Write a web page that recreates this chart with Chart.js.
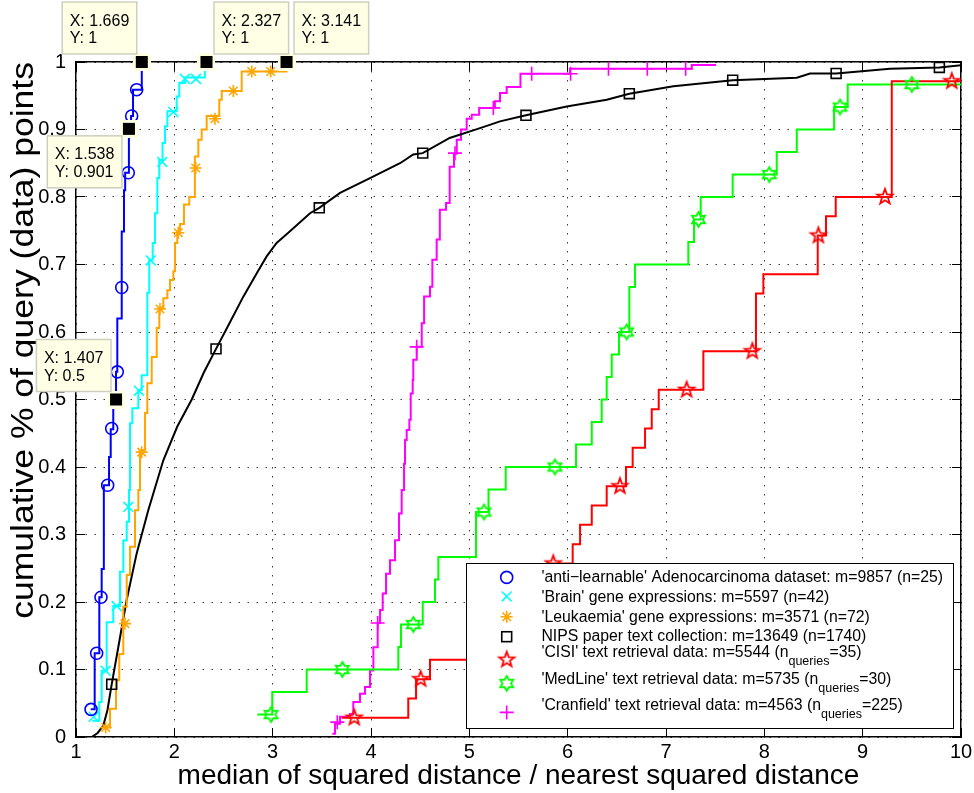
<!DOCTYPE html>
<html><head><meta charset="utf-8">
<script src="https://cdn.jsdelivr.net/npm/chart.js@4"></script>
<style>html,body{margin:0;padding:0;background:#fff}canvas{display:block}</style>
</head><body>
<canvas id="c" width="974" height="793"></canvas>
<script>
// ---------- data ----------
const xTicks = [1,2,3,4,5,6,7,8,9,10];
const yTicks = [0,0.1,0.2,0.3,0.4,0.5,0.6,0.7,0.8,0.9,1];
const yTickLabels = ['0','0.1','0.2','0.3','0.4','0.5','0.6','0.7','0.8','0.9','1'];
const xTitle = 'median of squared distance / nearest squared distance';
const yTitle = 'cumulative % of query (data) points';

const legendLabels = [
  "'anti\u2212learnable' Adenocarcinoma dataset: m=9857 (n=25)",
  "'Brain' gene expressions: m=5597 (n=42)",
  "'Leukaemia' gene expressions: m=3571 (n=72)",
  "NIPS paper text collection: m=13649 (n=1740)",
  "'CISI' text retrieval data: m=5544 (n_{queries}=35)",
  "'MedLine' text retrieval data: m=5735 (n_{queries}=30)",
  "'Cranfield' text retrieval data: m=4563 (n_{queries}=225)"
];

// 'anti-learnable' Adenocarcinoma
const adenoX = [1.15,1.19,1.237,1.261,1.283,1.336,1.353,1.379,1.407,1.42,1.465,1.488,1.50,1.538,1.56,1.58,1.669];
const adenoY = [0.041,0.124,0.207,0.249,0.373,0.415,0.456,0.50,0.541,0.62,0.749,0.81,0.836,0.901,0.92,0.959,1.0];
const adenoMX = [1.153,1.21,1.254,1.322,1.363,1.42,1.465,1.532,1.566,1.617];
const adenoMY = [0.041,0.124,0.207,0.373,0.457,0.541,0.666,0.836,0.92,0.959];

// 'Brain'
const brainX = [1.166,1.237,1.261,1.312,1.379,1.447,1.481,1.516,1.539,1.549,1.573,1.634,1.668,1.725,1.745,1.78,1.803,1.827,1.847,1.88,1.905,1.929,2.024,2.05,2.108,2.31];
const brainY = [0.024,0.052,0.098,0.170,0.194,0.245,0.291,0.319,0.366,0.465,0.487,0.514,0.536,0.658,0.707,0.732,0.776,0.828,0.855,0.88,0.905,0.927,0.949,0.969,0.977,1.0];
const brainMX = [1.18,1.302,1.414,1.532,1.64,1.76,1.878,1.99,2.108,2.22];
const brainMY = [0.03,0.098,0.194,0.341,0.513,0.706,0.852,0.926,0.975,0.975];

// 'Leukaemia'
const leukX = [1.254,1.346,1.407,1.44,1.481,1.516,1.549,1.60,1.634,1.651,1.702,1.725,1.77,1.821,1.847,1.888,1.929,1.956,1.99,2.007,2.03,2.058,2.098,2.152,2.209,2.244,2.278,2.329,2.457,2.482,2.685,3.141];
const leukY = [0.014,0.042,0.084,0.123,0.193,0.24,0.282,0.336,0.366,0.425,0.48,0.524,0.563,0.606,0.635,0.65,0.662,0.677,0.69,0.732,0.747,0.76,0.789,0.80,0.86,0.885,0.90,0.92,0.944,0.957,0.986,1.0];
const leukMX = [1.302,1.498,1.668,1.854,2.04,2.217,2.413,2.60,2.787,2.98];
const leukMY = [0.014,0.168,0.422,0.634,0.747,0.843,0.916,0.957,0.986,0.986];

// NIPS
const nipsX = [1.16,1.22,1.278,1.32,1.363,1.43,1.515,1.617,1.735,1.888,2.03,2.177,2.30,2.424,2.55,2.70,2.85,2.939,3.04,3.159,3.38,3.474,3.685,3.99,4.295,4.43,4.526,4.80,5.109,5.312,5.576,5.99,6.397,6.627,7.075,7.678,8.33,8.465,8.73,9.278,9.78,10.01];
const nipsY = [0,0.006,0.017,0.04,0.078,0.133,0.203,0.272,0.336,0.41,0.46,0.5,0.54,0.575,0.61,0.652,0.69,0.712,0.732,0.747,0.776,0.784,0.806,0.828,0.85,0.863,0.865,0.8875,0.902,0.912,0.921,0.934,0.944,0.953,0.964,0.973,0.9766,0.983,0.983,0.99,0.992,0.9955];
const nipsMX = [1.363,2.424,3.474,4.526,5.576,6.627,7.678,8.73,9.78];
const nipsMY = [0.078,0.575,0.784,0.865,0.921,0.953,0.973,0.983,0.992];

// 'CISI'
const cisiX = [3.702,4.379,4.458,4.60,5.0,5.2,5.4,5.6,5.8,6.051,6.126,6.245,6.397,6.593,6.661,6.787,6.855,6.926,7.38,7.915,7.99,8.543,8.627,8.726,9.296,10.5];
const cisiY = [0.0286,0.0571,0.0857,0.1143,0.1429,0.1714,0.2,0.2286,0.2571,0.2857,0.3143,0.3429,0.3714,0.4,0.4286,0.4571,0.4857,0.5143,0.5714,0.6571,0.6857,0.7429,0.7714,0.8,0.9714,1.0];
const cisiMX = [3.83,4.505,5.18,5.854,6.532,7.21,7.878,8.55,9.227,9.906];
const cisiMY = [0.0286,0.0857,0.1429,0.2571,0.3714,0.5143,0.5714,0.7429,0.8,0.9714];

// 'MedLine'
const medX = [2.844,2.996,3.346,4.278,4.305,4.526,4.651,4.685,5.068,5.195,5.37,6.085,6.245,6.346,6.397,6.448,6.522,6.627,6.685,7.227,7.285,7.353,7.678,8.126,8.33,8.709,8.848,10.5];
const medY = [0.0333,0.0667,0.1,0.1333,0.1667,0.2,0.2333,0.2667,0.3333,0.3667,0.4,0.4333,0.4667,0.5,0.5333,0.5667,0.6,0.6667,0.7,0.7333,0.7667,0.8,0.8333,0.8667,0.9,0.9333,0.9667,1.0];
const medMX = [2.983,3.708,4.43,5.149,5.87,6.6,7.33,8.05,8.77,9.5];
const medMY = [0.0333,0.1,0.1667,0.3333,0.4,0.6,0.7667,0.8333,0.9333,0.9667];

// 'Cranfield'
const cranX = [3.607,3.634,3.685,3.787,3.82,3.888,3.939,3.99,4.024,4.068,4.092,4.119,4.153,4.193,4.244,4.285,4.312,4.336,4.346,4.363,4.39,4.404,4.424,4.43,4.465,4.516,4.54,4.60,4.624,4.668,4.70,4.763,4.80,4.844,4.872,4.915,4.973,5.024,5.10,5.26,5.312,5.38,5.52,6.024,7.262,7.509];
const cranY = [0.005,0.0196,0.030,0.034,0.052,0.064,0.074,0.0987,0.133,0.169,0.188,0.2125,0.242,0.262,0.2915,0.331,0.366,0.405,0.44,0.455,0.47,0.509,0.529,0.559,0.578,0.613,0.6525,0.667,0.707,0.737,0.781,0.791,0.845,0.864,0.885,0.90,0.916,0.922,0.932,0.942,0.954,0.963,0.9825,0.99,0.9955,0.9955];
const cranMX = [3.657,4.068,4.465,4.854,5.244,5.634,6.03,6.415,6.81,7.20];
const cranMY = [0.022,0.169,0.578,0.865,0.932,0.9825,0.9825,0.99,0.99,0.99];

// data tips
const dtX = [1.669,2.327,3.141,1.538,1.407];
const dtY = [1,1,1,0.901,0.5];

// ---------- styles ----------
const FONT = "'Liberation Sans', Arial, Helvetica, sans-serif";
const dtPlace = ['ul','ur','ur','ll','ul'];

function starCanvas(n, R, r, color, lw) {
  const size = Math.ceil(2 * R + 2 * lw + 2);
  const c = document.createElement('canvas');
  c.width = c.height = size;
  const g = c.getContext('2d');
  g.translate(size / 2, size / 2);
  g.beginPath();
  for (let i = 0; i < 2 * n; i++) {
    const a = -Math.PI / 2 + i * Math.PI / n;
    const rad = i % 2 === 0 ? R : r;
    g.lineTo(rad * Math.cos(a), rad * Math.sin(a));
  }
  g.closePath();
  g.strokeStyle = color; g.lineWidth = lw; g.lineJoin = 'miter';
  g.stroke();
  return c;
}
function tipCanvas() {
  const c = document.createElement('canvas');
  c.width = c.height = 18;
  const g = c.getContext('2d');
  g.fillStyle = '#FFFFE1'; g.fillRect(0, 0, 18, 18);
  g.fillStyle = '#000'; g.fillRect(3, 3, 12, 12);
  return c;
}
const pentagram = starCanvas(5, 8, 3.3, '#FF0000', 1.8);
const hexagram = starCanvas(6, 7.5, 4.3, '#00FF00', 1.8);
const tipMark = tipCanvas();

const seriesStyles = [
  {color:'#0000FF', style:'circle', r:6},
  {color:'#00FFFF', style:'crossRot', r:7},
  {color:'#FFA500', style:'star', r:6},
  {color:'#000000', style:'rect', r:7},
  {color:'#FF0000', style:pentagram, r:8},
  {color:'#00FF00', style:hexagram, r:8},
  {color:'#FF00FF', style:'cross', r:7}
];

const pts = (xs, ys) => xs.map((x, i) => ({x: x, y: ys[i]}));
function lineDs(xs, ys, color, stepped) {
  return {data: pts(xs, ys), borderColor: color, borderWidth: 2, pointRadius: 0,
          stepped: stepped, fill: false, tension: 0, order: 2};
}
function markDs(xs, ys, s) {
  return {data: pts(xs, ys), showLine: false, pointStyle: s.style, pointRadius: s.r,
          pointBorderColor: s.color, pointBackgroundColor: 'rgba(0,0,0,0)', pointBorderWidth: 1.6,
          clip: false, order: 1};
}

const datasets = [
  {data: pts(dtX, dtY), showLine: false, pointStyle: tipMark, pointRadius: 9, clip: false, order: 0},
  markDs(adenoMX, adenoMY, seriesStyles[0]),
  markDs(brainMX, brainMY, seriesStyles[1]),
  markDs(leukMX, leukMY, seriesStyles[2]),
  markDs(nipsMX, nipsMY, seriesStyles[3]),
  markDs(cisiMX, cisiMY, seriesStyles[4]),
  markDs(medMX, medMY, seriesStyles[5]),
  markDs(cranMX, cranMY, seriesStyles[6]),
  lineDs(adenoX, adenoY, seriesStyles[0].color, true),
  lineDs(brainX, brainY, seriesStyles[1].color, true),
  lineDs(leukX, leukY, seriesStyles[2].color, true),
  lineDs(nipsX, nipsY, seriesStyles[3].color, false),
  lineDs(cisiX, cisiY, seriesStyles[4].color, true),
  lineDs(medX, medY, seriesStyles[5].color, true),
  lineDs(cranX, cranY, seriesStyles[6].color, true)
];

// ---------- plugins ----------
function drawMarker(ctx, s, x, y) {
  ctx.save();
  ctx.strokeStyle = s.color; ctx.lineWidth = 1.6;
  const r = s.r;
  if (typeof s.style !== 'string') {
    ctx.drawImage(s.style, x - s.style.width / 2, y - s.style.height / 2);
  } else if (s.style === 'circle') {
    ctx.beginPath(); ctx.arc(x, y, r, 0, Math.PI * 2); ctx.stroke();
  } else if (s.style === 'crossRot') {
    const d = r * Math.SQRT1_2;
    ctx.beginPath(); ctx.moveTo(x - d, y - d); ctx.lineTo(x + d, y + d);
    ctx.moveTo(x - d, y + d); ctx.lineTo(x + d, y - d); ctx.stroke();
  } else if (s.style === 'star') {
    const d = r * Math.SQRT1_2;
    ctx.beginPath(); ctx.moveTo(x - r, y); ctx.lineTo(x + r, y); ctx.moveTo(x, y - r); ctx.lineTo(x, y + r);
    ctx.moveTo(x - d, y - d); ctx.lineTo(x + d, y + d); ctx.moveTo(x - d, y + d); ctx.lineTo(x + d, y - d); ctx.stroke();
  } else if (s.style === 'rect') {
    const d = r * Math.SQRT1_2;
    ctx.strokeRect(x - d, y - d, 2 * d, 2 * d);
  } else if (s.style === 'cross') {
    ctx.beginPath(); ctx.moveTo(x - r, y); ctx.lineTo(x + r, y); ctx.moveTo(x, y - r); ctx.lineTo(x, y + r); ctx.stroke();
  }
  ctx.restore();
}

const overlayPlugin = {
  id: 'overlay',
  afterDraw(chart) {
    const {ctx, chartArea: ca, scales} = chart;
    const xs = scales.x, ys = scales.y;

    // y axis title (rendered slightly elongated, as in the original figure)
    ctx.save();
    ctx.font = '32px ' + FONT;
    ctx.fillStyle = '#000';
    ctx.translate(33, ca.top);
    ctx.rotate(-Math.PI / 2);
    ctx.scale(1.11, 1);
    ctx.textAlign = 'right'; ctx.textBaseline = 'alphabetic';
    ctx.fillText(yTitle, 0, 0);
    ctx.restore();

    // data tip boxes
    ctx.save();
    ctx.font = '16px ' + FONT;
    dtX.forEach((vx, i) => {
      const px = xs.getPixelForValue(vx), py = ys.getPixelForValue(dtY[i]);
      const l1 = 'X: ' + vx, l2 = 'Y: ' + dtY[i];
      const w = Math.max(ctx.measureText(l1).width, ctx.measureText(l2).width) + 15;
      const h = 52;
      let bx, by;
      const p = dtPlace[i];
      if (p === 'ul') { bx = px - 5 - w; by = py - 8 - h; }
      else if (p === 'ur') { bx = px + 7.5; by = py - 8 - h; }
      else { bx = px - 7 - w; by = py + 7; }
      ctx.fillStyle = '#FFFFE6'; ctx.fillRect(bx, by, w, h);
      ctx.strokeStyle = '#CFCFC0'; ctx.lineWidth = 1.5; ctx.strokeRect(bx, by, w, h);
      ctx.fillStyle = '#000'; ctx.textBaseline = 'alphabetic'; ctx.textAlign = 'left';
      ctx.fillText(l1, bx + 7.5, by + 23.5);
      ctx.fillText(l2, bx + 7.5, by + 41);
    });
    ctx.restore();

    // legend
    ctx.save();
    const lw = 487, lh = 165;
    const lx = ca.right - 8 - lw, ly = ca.bottom - 9 - lh;
    ctx.fillStyle = '#fff'; ctx.fillRect(lx, ly, lw, lh);
    ctx.strokeStyle = '#000'; ctx.lineWidth = 1; ctx.strokeRect(Math.round(lx) + 0.5, Math.round(ly) + 0.5, lw, lh);
    const textY = [14.4, 34.4, 54.4, 73.7, 90, 117, 142.7];
    const markY = [14.4, 33.4, 53.7, 73.7, 96.7, 120.4, 149.4];
    ctx.textBaseline = 'middle'; ctx.textAlign = 'left'; ctx.fillStyle = '#000';
    legendLabels.forEach((lab, i) => {
      drawMarker(ctx, seriesStyles[i], lx + 40.7, ly + markY[i]);
      let tx = lx + 75.4;
      const ty = ly + textY[i];
      const m = lab.match(/^(.*)_\{([^}]*)\}(.*)$/);
      const parts = m ? [[m[1], 0], [m[2], 1], [m[3], 0]] : [[lab, 0]];
      parts.forEach(([t, sub]) => {
        ctx.font = (sub ? '12.5px ' : '15.8px ') + FONT;
        ctx.fillText(t, tx, ty + (sub ? 9 : 0));
        tx += ctx.measureText(t).width;
      });
    });
    ctx.restore();
  }
};

const gridCommon = {color: '#3a3a3a', lineWidth: 1, drawTicks: true, tickLength: -9, tickColor: '#000', tickWidth: 1};
const noPadX = s => { s.paddingLeft = 0; s.paddingRight = 0; };
const noPadY = s => { s.paddingTop = 0; s.paddingBottom = 0; };

new Chart(document.getElementById('c'), {
  type: 'line',
  data: {datasets: datasets},
  options: {
    responsive: false, animation: false, devicePixelRatio: 1, events: [],
    layout: {padding: {left: 0, right: 13, top: 62, bottom: 0}},
    plugins: {legend: {display: false}, tooltip: {enabled: false}},
    scales: {
      x: {
        type: 'linear', position: 'bottom', min: 1, max: 10,
        afterBuildTicks: s => { s.ticks = xTicks.map(v => ({value: v})); },
        afterFit: s => { s.height = 56; noPadX(s); },
        ticks: {callback: (v) => String(v), font: {family: FONT, size: 20}, color: '#000', padding: 12, maxRotation: 0, autoSkip: false},
        grid: gridCommon,
        border: {display: true, color: '#000', width: 1.5, dash: [1.5, 7.5]},
        title: {display: true, text: xTitle, font: {family: FONT, size: 28}, color: '#000', padding: {top: 0, bottom: 0}}
      },
      y: {
        type: 'linear', position: 'left', min: 0, max: 1,
        afterBuildTicks: s => { s.ticks = yTicks.map(v => ({value: v})); },
        afterFit: s => { s.width = 76; noPadY(s); },
        ticks: {callback: (v, i) => yTickLabels[i], font: {family: FONT, size: 20}, color: '#000', padding: 19, autoSkip: false},
        grid: gridCommon,
        border: {display: true, color: '#000', width: 1.5, dash: [1.5, 7.5]},
        title: {display: false, text: yTitle}
      },
      x2: {
        type: 'linear', position: 'top', min: 1, max: 10,
        afterBuildTicks: s => { s.ticks = xTicks.map(v => ({value: v})); },
        afterFit: s => { s.height = 0; noPadX(s); },
        ticks: {display: false},
        grid: {drawOnChartArea: false, drawTicks: true, tickLength: -9, tickColor: '#000', tickWidth: 1},
        border: {display: true, color: '#000', width: 1.5}
      },
      y2: {
        type: 'linear', position: 'right', min: 0, max: 1,
        afterBuildTicks: s => { s.ticks = yTicks.map(v => ({value: v})); },
        afterFit: s => { s.width = 0; noPadY(s); },
        ticks: {display: false},
        grid: {drawOnChartArea: false, drawTicks: true, tickLength: -9, tickColor: '#000', tickWidth: 1},
        border: {display: true, color: '#000', width: 1.5}
      }
    }
  },
  plugins: [overlayPlugin]
});
</script>
</body></html>
